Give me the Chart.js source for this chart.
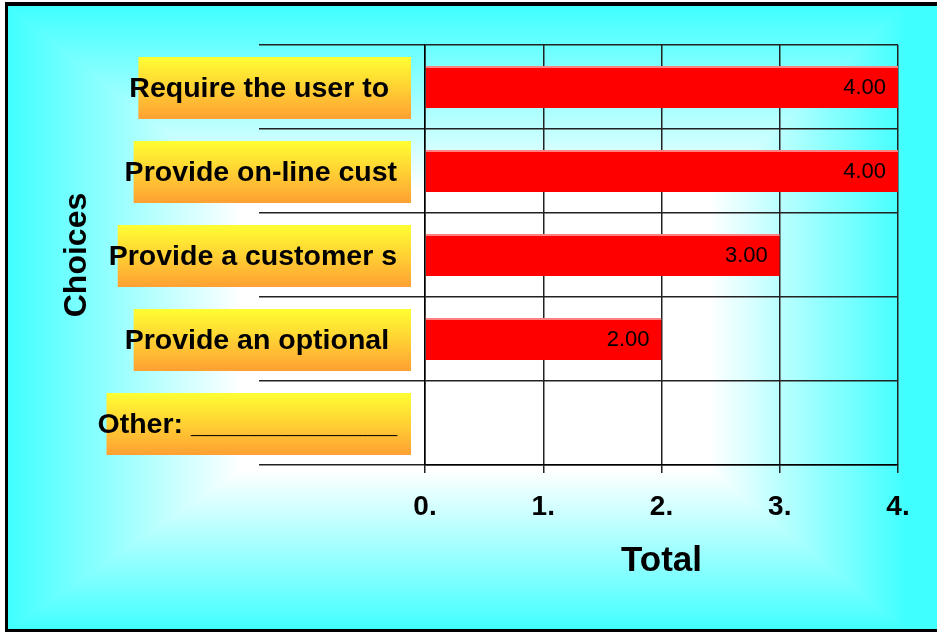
<!DOCTYPE html>
<html>
<head>
<meta charset="utf-8">
<script src="https://cdn.jsdelivr.net/npm/chart.js@4.4.0/dist/chart.umd.min.js"></script>
<style>
body { margin: 0; background: #fff; }
canvas { display: block; }
</style>
</head>
<body>
<canvas id="grafico" width="937" height="632"></canvas>
<script>
// DADOS DO GRAFICO
var categorias = ['Require the user to ', 'Provide on-line cust', 'Provide a customer s', 'Provide an optional ', 'Other: _____________'];
var totais = [4, 4, 3, 2, 0];
var ticks_x = [0, 1, 2, 3, 4];
var titulo_x = 'Total';
var titulo_y = 'Choices';

var fonte = '"Liberation Sans", Arial, sans-serif';

// FUNDO: GRADIENTE RETANGULAR CIANO -> BRANCO, MOLDURA PRETA E CAIXAS AMARELAS
var fundo_img = null;
function monta_fundo(W, H) {
    var c = document.createElement('canvas');
    c.width = W; c.height = H;
    var g = c.getContext('2d');
    var img = g.createImageData(W, H);
    var o = { x0: 8, y0: 6, x1: 905, y1: 630 };
    var d = { x0: 240, y0: 190, x1: 710, y1: 470 };
    for (var y = 0; y < H; y++) {
        for (var x = 0; x < W; x++) {
            var tx = 0, ty = 0;
            if (x < d.x0) tx = (d.x0 - x) / (d.x0 - o.x0);
            else if (x > d.x1) tx = (x - d.x1) / (o.x1 - d.x1);
            if (y < d.y0) ty = (d.y0 - y) / (d.y0 - o.y0);
            else if (y > d.y1) ty = (y - d.y1) / (o.y1 - d.y1);
            var t = Math.min(1, Math.max(tx, ty));
            var p = (y * W + x) * 4;
            img.data[p] = Math.round(255 - t * (255 - 64));
            img.data[p + 1] = 255;
            img.data[p + 2] = 255;
            img.data[p + 3] = 255;
        }
    }
    g.putImageData(img, 0, 0);
    // moldura
    g.fillStyle = '#fff';
    g.fillRect(0, 0, 5, H);
    g.fillRect(0, 0, W, 2);
    g.fillStyle = '#000';
    g.fillRect(5, 2, 3, H - 2);
    g.fillRect(5, 2, W - 5, 4);
    g.fillRect(5, 629, W - 5, 3);
    return c;
}

var fundo = {
    id: 'fundo',
    beforeDraw: function (chart) {
        var ctx = chart.ctx;
        if (!fundo_img) fundo_img = monta_fundo(chart.width, chart.height);
        ctx.save();
        ctx.drawImage(fundo_img, 0, 0);
        // caixas amarelas atras dos rotulos
        var eixo = chart.scales.y;
        var fim_texto = eixo.right - eixo.options.grid.tickLength - eixo.options.ticks.padding;
        ctx.font = 'bold 28.5px ' + fonte;
        for (var i = 0; i < categorias.length; i++) {
            var cy = eixo.getPixelForTick(i);
            var w = ctx.measureText(categorias[i]).width;
            var esq = fim_texto - w + 9;
            var grad = ctx.createLinearGradient(0, cy - 30, 0, cy + 32);
            grad.addColorStop(0, '#ffff33');
            grad.addColorStop(0.5, '#ffd033');
            grad.addColorStop(1, '#ffa033');
            ctx.fillStyle = grad;
            ctx.fillRect(esq, cy - 30, 411 - esq, 62);
        }
        ctx.restore();
    }
};

// ROTULOS DE VALOR DENTRO DAS BARRAS
var rotulos = {
    id: 'rotulos',
    afterDatasetsDraw: function (chart) {
        var ctx = chart.ctx;
        var meta = chart.getDatasetMeta(0);
        ctx.save();
        ctx.font = '22px ' + fonte;
        ctx.fillStyle = '#000';
        ctx.textAlign = 'right';
        ctx.textBaseline = 'middle';
        meta.data.forEach(function (barra, k) {
            if (!totais[k]) return;
            ctx.fillText(totais[k].toFixed(2), barra.x - 12, barra.y + 1);
        });
        ctx.restore();
    }
};

var ctx = document.getElementById('grafico').getContext('2d');
var grafico = new Chart(ctx, {
    type: 'bar',
    data: {
        labels: categorias,
        datasets: [{
            data: totais,
            backgroundColor: '#ff0000',
            borderColor: '#ff8080',
            borderWidth: { top: 2, right: 0, bottom: 0, left: 0 },
            borderSkipped: false,
            barPercentage: 0.5,
            categoryPercentage: 1
        }]
    },
    options: {
        indexAxis: 'y',
        responsive: false,
        animation: false,
        devicePixelRatio: 1,
        layout: { padding: { top: 45, right: 39, bottom: 0, left: 0 } },
        plugins: {
            legend: { display: false },
            tooltip: { enabled: false }
        },
        scales: {
            x: {
                min: 0,
                max: 4,
                afterFit: function (s) { s.height = 167; },
                afterBuildTicks: function (s) {
                    s.ticks = ticks_x.map(function (v) { return { value: v }; });
                },
                grid: { color: '#222', lineWidth: 1.5, tickLength: 8 },
                border: { color: '#000', width: 1.5 },
                ticks: {
                    padding: 17.5,
                    color: '#000',
                    maxRotation: 0,
                    font: { family: fonte, size: 28, weight: 'bold' },
                    callback: function (v) { return v + '.'; }
                },
                title: {
                    display: true,
                    text: titulo_x,
                    color: '#000',
                    font: { family: fonte, size: 35, weight: 'bold' },
                    padding: { top: 0, bottom: 50 }
                }
            },
            y: {
                afterFit: function (s) { s.width = 425; },
                grid: { color: '#222', lineWidth: 1.5, tickLength: 166, offset: true },
                border: { color: '#000', width: 1.5 },
                ticks: {
                    padding: -138,
                    labelOffset: 2.5,
                    crossAlign: 'near',
                    color: '#000',
                    font: { family: fonte, size: 28.5, weight: 'bold' }
                },
                title: {
                    display: true,
                    text: titulo_y,
                    color: '#000',
                    font: { family: fonte, size: 32, weight: 'bold' },
                    padding: { top: 57.8, bottom: 0 }
                }
            }
        }
    },
    plugins: [fundo, rotulos]
});
</script>
</body>
</html>
